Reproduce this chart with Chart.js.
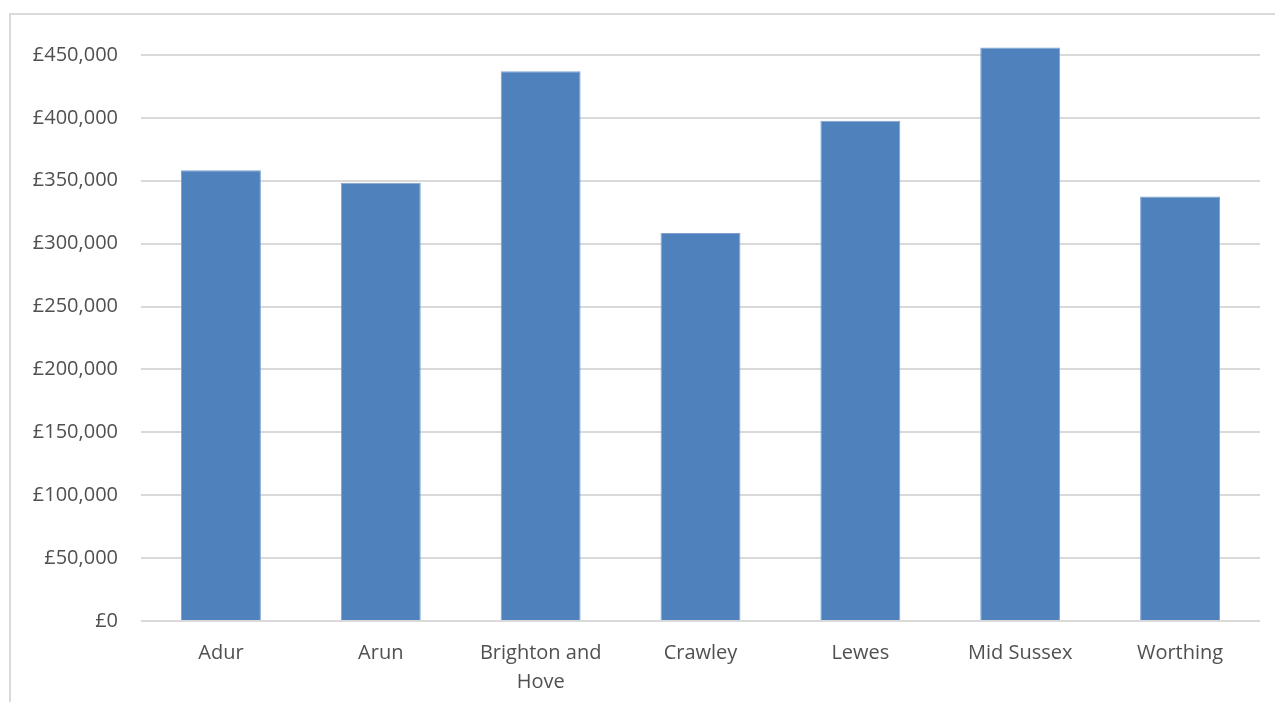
<!DOCTYPE html>
<html>
<head>
<meta charset="utf-8">
<script src="https://cdn.jsdelivr.net/npm/chart.js@4"></script>
<style>
  html, body { margin: 0; padding: 0; background: #fff; overflow: hidden; }
  .frame { position: absolute; left: 9px; top: 13px; width: 1300px; height: 720px; border: 2px solid #d9d9d9; }
  .wrap { position: absolute; left: 0; top: 0; width: 1275px; height: 702px; }
</style>
</head>
<body>
<div class="frame"></div>
<div class="wrap"><canvas id="chart" width="1275" height="702"></canvas></div>
<script>
const districts = ['Adur', 'Arun', ['Brighton and', 'Hove'], 'Crawley', 'Lewes', 'Mid Sussex', 'Worthing'];
const prices = [358400, 348400, 437100, 308400, 397800, 456000, 337500];
const yTickMax = 450000;
const yTickStep = 50000;

const chartPlaceElement = document.getElementById('chart');

new Chart(chartPlaceElement, {
  type: 'bar',
  data: {
    labels: districts,
    datasets: [{
      label: 'Average price',
      data: prices,
      backgroundColor: '#4f81bd',
      borderColor: '#7fa2d0',
      borderWidth: 1,
      barPercentage: 0.5,
      categoryPercentage: 1,
      clip: false
    }]
  },
  options: {
    responsive: false,
    animation: false,
    layout: { padding: { left: 0, right: 15, top: 55, bottom: 1 } },
    plugins: { legend: { display: false }, tooltip: { enabled: false } },
    scales: {
      x: {
        grid: { display: false },
        border: { display: false },
        ticks: { color: '#505050', font: { family: 'Open Sans', size: 20, lineHeight: 1.45 }, padding: 10, maxRotation: 0, autoSkip: false },
        afterFit: (scale) => { scale.height = 80; }
      },
      y: {
        min: 0,
        max: yTickMax,
        grid: { color: '#d9d9d9', lineWidth: 2, drawTicks: false },
        border: { display: false },
        ticks: {
          stepSize: yTickStep,
          color: '#505050',
          font: { family: 'Open Sans', size: 20 },
          padding: 23,
          callback: (v) => '£' + v.toLocaleString('en-GB')
        },
        afterFit: (scale) => { scale.width = 141; }
      }
    }
  }
});
</script>
</body>
</html>
